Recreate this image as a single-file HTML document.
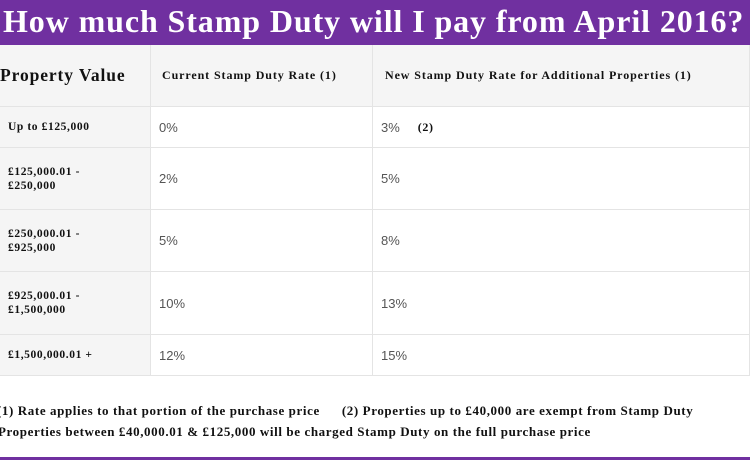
<!DOCTYPE html>
<html><head><meta charset="utf-8"><style>
*{margin:0;padding:0;box-sizing:border-box}
body{width:750px;height:460px;background:#fff;position:relative;overflow:hidden;font-family:"Liberation Sans",sans-serif}
.title{position:absolute;left:0;top:0;width:750px;height:45px;background:#7030a0;color:#fff;font-family:"Liberation Serif",serif;font-weight:bold;font-size:32px;line-height:43px;white-space:nowrap;padding-left:3px;letter-spacing:0.9px;overflow:hidden}
.c{position:absolute;border-bottom:1px solid #e4e4e4;border-right:1px solid #e4e4e4;display:flex;align-items:center}
.s{font-family:"Liberation Serif",serif;font-weight:bold;color:#111}
.r{font-size:11.5px;letter-spacing:0.6px;line-height:14px}
.h{font-size:12px;letter-spacing:0.9px}
.v{color:#555;font-size:13px;padding-left:8px}
.foot{position:absolute;left:0;font-family:"Liberation Serif",serif;font-weight:bold;font-size:13px;letter-spacing:0.6px;color:#111;white-space:nowrap}
.bar{position:absolute;left:0;top:457px;width:750px;height:3px;background:#7030a0}
</style></head><body>
<div class="title">How much Stamp Duty will I pay from April 2016?</div>
<div class="c s" style="left:0;top:45px;width:151px;height:62px;background:#f5f5f5;font-size:17.5px;letter-spacing:0.9px;padding-left:0">Property Value</div>
<div class="c s h" style="left:151px;top:45px;width:222px;height:62px;background:#f5f5f5;padding-left:11px">Current Stamp Duty Rate (1)</div>
<div class="c s h" style="left:373px;top:45px;width:377px;height:62px;background:#f5f5f5;padding-left:12px">New Stamp Duty Rate for Additional Properties (1)</div>

<div class="c s r" style="left:0;top:107px;width:151px;height:41px;background:#f5f5f5;padding-left:8px">Up to £125,000</div>
<div class="c v" style="left:151px;top:107px;width:222px;height:41px">0%</div>
<div class="c v" style="left:373px;top:107px;width:377px;height:41px">3% <span class="s" style="font-size:12px;letter-spacing:0.6px;margin-left:18px">(2)</span></div>

<div class="c s r" style="left:0;top:148px;width:151px;height:62px;background:#f5f5f5;padding-left:8px">£125,000.01 -<br>£250,000</div>
<div class="c v" style="left:151px;top:148px;width:222px;height:62px">2%</div>
<div class="c v" style="left:373px;top:148px;width:377px;height:62px">5%</div>

<div class="c s r" style="left:0;top:210px;width:151px;height:62px;background:#f5f5f5;padding-left:8px">£250,000.01 -<br>£925,000</div>
<div class="c v" style="left:151px;top:210px;width:222px;height:62px">5%</div>
<div class="c v" style="left:373px;top:210px;width:377px;height:62px">8%</div>

<div class="c s r" style="left:0;top:272px;width:151px;height:63px;background:#f5f5f5;padding-left:8px">£925,000.01 -<br>£1,500,000</div>
<div class="c v" style="left:151px;top:272px;width:222px;height:63px">10%</div>
<div class="c v" style="left:373px;top:272px;width:377px;height:63px">13%</div>

<div class="c s r" style="left:0;top:335px;width:151px;height:41px;background:#f5f5f5;padding-left:8px">£1,500,000.01 +</div>
<div class="c v" style="left:151px;top:335px;width:222px;height:41px">12%</div>
<div class="c v" style="left:373px;top:335px;width:377px;height:41px">15%</div>

<div class="foot" style="top:403px;left:-3px">(1) Rate applies to that portion of the purchase price<span style="display:inline-block;width:22px"></span>(2) Properties up to £40,000 are exempt from Stamp Duty</div>
<div class="foot" style="top:424px;left:-2px">Properties between £40,000.01 &amp; £125,000 will be charged Stamp Duty on the full purchase price</div>
<div class="bar"></div>
</body></html>
